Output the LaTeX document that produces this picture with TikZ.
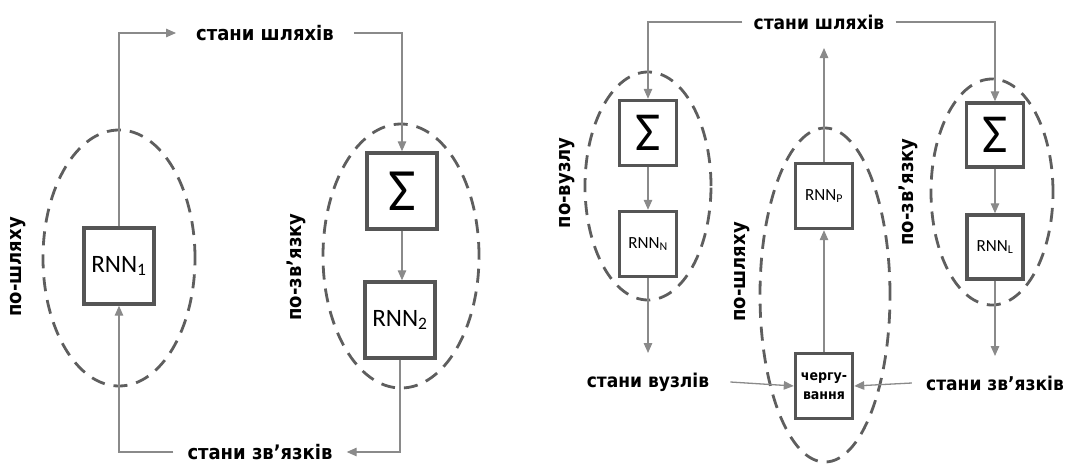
\documentclass[tikz,border=0pt]{standalone}
\usepackage{fontspec}
\usetikzlibrary{arrows.meta,shapes.geometric}
\newfontfamily\lab{DejaVu Sans Condensed Bold}
\newfontfamily\rnn{Carlito}
\definecolor{boxc}{HTML}{555555}
\definecolor{linec}{HTML}{8A8A8A}
\definecolor{dashc}{HTML}{5E5E5E}
\newcommand{\fs}[1]{\fontsize{#1}{#1}\selectfont}
\begin{document}
\begin{tikzpicture}[x=1pt,y=-1pt,
  box/.style={draw=boxc,line width=3.4pt,fill=white,inner sep=0pt,font=\rnn},
  ell/.style={draw=dashc,ellipse,line width=2.8pt,inner sep=0pt,dash pattern=on 14pt off 9pt},
  arr/.style={draw=linec,line width=1.3pt,-{Triangle[length=10pt,width=8.5pt]}},
  lbl/.style={font=\lab\fs{20},inner ysep=2pt},
  lbr/.style={font=\lab\fs{19},inner ysep=2pt},
  side/.style={rotate=90,font=\lab\fs{20},inner sep=0pt}]
\useasboundingbox (0,0) rectangle (1081,463);
% ---------- left diagram ----------
\node[ell,minimum width=152pt,minimum height=256pt] (e1) at (119,258) {};
\node[ell,minimum width=156pt,minimum height=264pt] (e2) at (401,256) {};
\node[lbl,inner xsep=20pt] (sp1) at (265,33) {стани шляхів};
\node[lbl,inner xsep=14pt] (sz1) at (260,452) {стани зв’язків};
\node[box,minimum width=70pt,minimum height=76pt] (r1) at (119,266) {\fs{25}RNN\textsubscript{1}};
\node[box,minimum width=70pt,minimum height=76pt] (s1) at (402,191) {\fs{60}Σ};
\node[box,minimum width=70pt,minimum height=76pt] (r2) at (400,320) {\fs{25}RNN\textsubscript{2}};
\node[side] (t1) at (18,267) {по-шляху};
\node[side] (t2) at (296,267) {по-зв’язку};
\draw[arr] (r1.north) |- (sp1.west);
\draw[arr] (sp1.east) -| (s1.north);
\draw[arr] (s1.south) -- (s1.south |- r2.north);
\draw[arr] (r2.south) |- (sz1.east);
\draw[arr] (sz1.west) -| (r1.south);
% ---------- right diagram ----------
\node[ell,minimum width=126pt,minimum height=228pt] (e3) at (648,186) {};
\node[ell,minimum width=130pt,minimum height=334pt] (e4) at (825,295) {};
\node[ell,minimum width=122pt,minimum height=226pt] (e5) at (992,192) {};
\node[lbr,inner xsep=11pt] (sp2) at (819,22) {стани шляхів};
\node[lbr,inner xsep=21pt] (svz) at (648,382) {стани вузлів};
\node[lbr,inner xsep=14pt] (szr) at (995,383) {стани зв’язків};
\node[box,minimum width=57pt,minimum height=65pt] (sN) at (648,133) {\fs{55}Σ};
\node[box,minimum width=57pt,minimum height=65pt] (rN) at (648,244) {\fs{17}RNN\textsubscript{N}};
\node[box,minimum width=57pt,minimum height=65pt] (rP) at (824,196) {\fs{17}RNN\textsubscript{P}};
\node[box,minimum width=57pt,minimum height=65pt,align=center,font=\lab\fs{14}] (ch) at (824,386) {чергу-\\[5pt]вання};
\node[box,minimum width=57pt,minimum height=64pt] (sL) at (995,135) {\fs{55}Σ};
\node[box,minimum width=56pt,minimum height=64pt] (rL) at (995,247) {\fs{17}RNN\textsubscript{L}};
\node[side] (t3) at (567,183) {по-вузлу};
\node[side] (t4) at (742,272) {по-шляху};
\node[side] (t5) at (908,192) {по-зв’язку};
\coordinate (nOut) at (648,353);
\coordinate (pOut) at (824,48);
\coordinate (lOut) at (995,356);
\draw[arr] (sp2.west) -| (sN.north);
\draw[arr] (sp2.east) -| (sL.north);
\draw[arr] (sN) -- (rN);
\draw[arr] (rN) -- (nOut);
\draw[arr] (ch) -- (rP);
\draw[arr] (rP) -- (pOut);
\draw[arr] (sL) -- (rL);
\draw[arr] (rL) -- (lOut);
\draw[arr] (svz.east) -- (ch.west);
\draw[arr] (szr.west) -- (ch.east);
\end{tikzpicture}
\end{document}
